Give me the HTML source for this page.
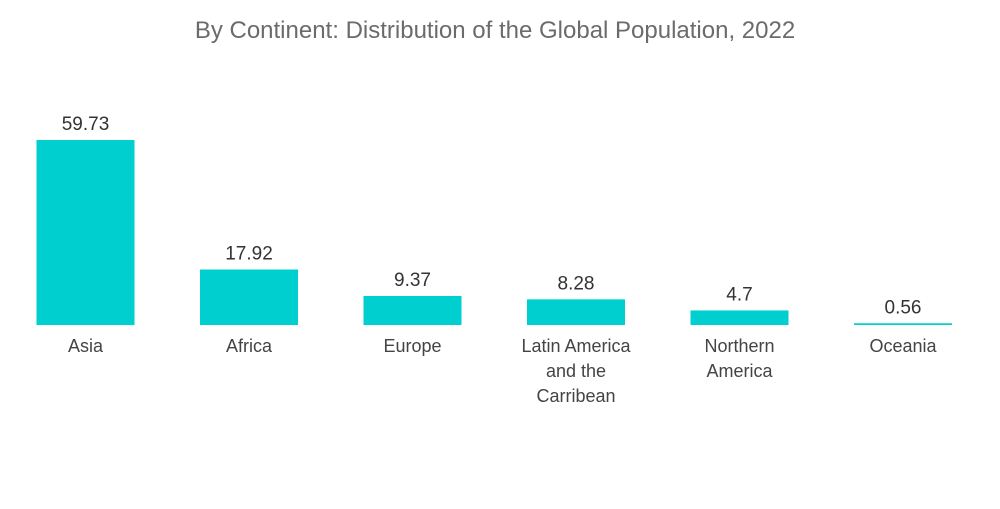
<!DOCTYPE html>
<html>
<head>
<meta charset="utf-8">
<style>
  html,body{margin:0;padding:0;background:#fff;}
  body{width:1000px;height:504px;overflow:hidden;font-family:"Liberation Sans",sans-serif;}
  svg text{font-family:"Liberation Sans",sans-serif;}
</style>
</head>
<body>
<svg id="chart" width="1000" height="504">
  <text x="495" y="38" text-anchor="middle" font-size="24" fill="#6b6b6b">By Continent: Distribution of the Global Population, 2022</text>
  <g id="bars"></g>
</svg>
<script>
const categories = [["Asia"],["Africa"],["Europe"],["Latin America","and the","Carribean"],["Northern","America"],["Oceania"]];
const values = [59.73, 17.92, 9.37, 8.28, 4.7, 0.56];
const valueLabels = ["59.73","17.92","9.37","8.28","4.7","0.56"];

const NS = "http://www.w3.org/2000/svg";
const baseline = 325, pxPerUnit = 3.097;
const firstCenter = 85.5, step = 163.5, barW = 98;
function xScale(i){ return firstCenter + i*step; }
function yScale(v){ return baseline - v*pxPerUnit; }
const g = document.getElementById('bars');
values.forEach((v,i)=>{
  const cx = xScale(i);
  const top = yScale(v);
  const r = document.createElementNS(NS,'rect');
  r.setAttribute('x', cx - barW/2);
  r.setAttribute('y', top);
  r.setAttribute('width', barW);
  r.setAttribute('height', Math.max(baseline - top, 1.5));
  r.setAttribute('fill', '#00cfd0');
  
  
  g.appendChild(r);
  const t = document.createElementNS(NS,'text');
  t.setAttribute('x', cx);
  t.setAttribute('y', top - 10);
  t.setAttribute('text-anchor','middle');
  t.setAttribute('font-size','19');
  t.setAttribute('fill','#333');
  t.textContent = valueLabels[i];
  
  
  g.appendChild(t);
  categories[i].forEach((line,j)=>{
    const c = document.createElementNS(NS,'text');
    c.setAttribute('x', cx);
    c.setAttribute('y', 352 + j*25);
    c.setAttribute('text-anchor','middle');
    c.setAttribute('font-size','18');
    c.setAttribute('fill','#444');
    c.textContent = line;
    
    
    g.appendChild(c);
  });
});
</script>
</body>
</html>
